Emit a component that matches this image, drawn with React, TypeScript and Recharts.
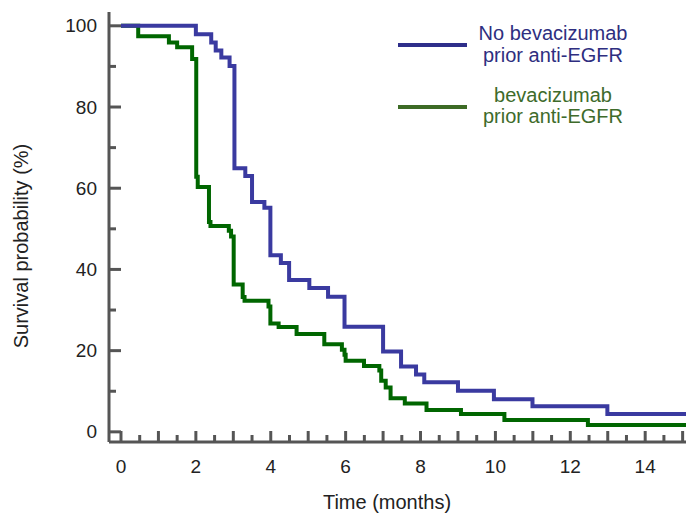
import { LineChart, Line, XAxis, YAxis, Label } from "recharts";

if (typeof document !== "undefined") document.body.style.margin = "0";

const FONT = "'Liberation Sans', Arial, sans-serif";
const AXIS = "#555555";
const BLUE = "#3a3aa0";
const GREEN = "#006600";

// Kaplan-Meier steps (months, % surviving)
const noBevTimes = [0, 2.0, 2.41, 2.53, 2.68, 2.9, 3.03, 3.32, 3.5, 3.83, 3.99, 4.27, 4.49, 5.03, 5.53, 5.97, 7.0, 7.48, 7.88, 8.1, 9.0, 9.96, 10.99, 12.99, 15.09];
const noBevSurv = [100, 97.9, 95.9, 93.9, 92.2, 90.1, 64.9, 63.0, 56.6, 55.2, 43.5, 41.6, 37.4, 35.4, 33.3, 25.9, 19.8, 16.1, 14.1, 12.2, 10.1, 8.0, 6.3, 4.4, 4.4];

const bevTimes = [0, 0.46, 1.28, 1.5, 1.9, 2.01, 2.05, 2.35, 2.39, 2.88, 2.94, 3.01, 3.25, 3.3, 3.94, 3.99, 4.21, 4.69, 5.43, 5.9, 5.97, 6.0, 6.49, 6.9, 6.95, 7.07, 7.2, 7.58, 8.16, 9.08, 10.24, 12.47, 15.09];
const bevSurv = [100, 97.4, 95.9, 94.7, 91.8, 62.8, 60.3, 51.7, 50.7, 49.5, 48.1, 36.3, 33.2, 32.3, 30.9, 26.7, 25.8, 24.1, 21.6, 20.2, 19.0, 17.5, 16.2, 15.1, 12.6, 10.9, 8.3, 7.0, 5.4, 4.4, 2.9, 1.7, 1.7];

const xTicks = [0, 0.5, 1, 1.5, 2, 2.5, 3, 3.5, 4, 4.5, 5, 5.5, 6, 6.5, 7, 7.5, 8, 8.5, 9, 9.5, 10, 10.5, 11, 11.5, 12, 12.5, 13, 13.5, 14, 14.5, 15];
const xLabels = [0, 2, 4, 6, 8, 10, 12, 14];
const yTicks = [0, 10, 20, 30, 40, 50, 60, 70, 80, 90, 100];
const yLabels = [0, 20, 40, 60, 80, 100];

const toRows = (times: number[], surv: number[]) => times.map((t, i) => ({ t, s: surv[i] }));
const noBevData = toRows(noBevTimes, noBevSurv);
const bevData = toRows(bevTimes, bevSurv);

const XTick = (props: any) => {
  const { x, y, payload } = props;
  const v = payload.value;
  const major = Number.isInteger(v);
  return (
    <g>
      <line x1={x} x2={x} y1={y} y2={y - (major ? 11 : 7)} stroke={AXIS} strokeWidth={3} />
      {xLabels.includes(v) && (
        <text x={x} y={y + 31} textAnchor="middle" fontSize={19} fill="#222" fontFamily={FONT}>
          {v}
        </text>
      )}
    </g>
  );
};

const YTick = (props: any) => {
  const { x, y, payload } = props;
  const v = payload.value;
  const major = yLabels.includes(v);
  return (
    <g>
      <line x1={x} x2={x + (major ? 12 : 7)} y1={y} y2={y} stroke={AXIS} strokeWidth={3} />
      {major && (
        <text x={x - 12} y={y} dy="0.35em" textAnchor="end" fontSize={19} fill="#222" fontFamily={FONT}>
          {v}
        </text>
      )}
    </g>
  );
};

const LegendBox = () => (
  <svg width={689} height={140} style={{ position: "absolute", top: 0, left: 0, pointerEvents: "none" }}>
    <line x1={398} x2={467} y1={45} y2={45} stroke="#2e2e8a" strokeWidth={4} />
    <text x={553} y={40} textAnchor="middle" fontSize={20} fill="#2e2e80" fontFamily={FONT}>No bevacizumab</text>
    <text x={553} y={62} textAnchor="middle" fontSize={20} fill="#2e2e80" fontFamily={FONT}>prior anti-EGFR</text>
    <line x1={398} x2={467} y1={107} y2={107} stroke="#3d6b25" strokeWidth={4} />
    <text x={553} y={102} textAnchor="middle" fontSize={20} fill="#3e6b2b" fontFamily={FONT}>bevacizumab</text>
    <text x={553} y={123} textAnchor="middle" fontSize={20} fill="#3e6b2b" fontFamily={FONT}>prior anti-EGFR</text>
  </svg>
);

export default function App() {
  return (
    <div style={{ width: 689, height: 516, background: "#fff", fontFamily: FONT, position: "relative" }}>
      <LineChart width={689} height={516} margin={{ top: 12, right: 3, bottom: 44, left: 0 }}>
        <XAxis
          dataKey="t"
          type="number"
          domain={[-0.32, 15.09]}
          allowDataOverflow
          ticks={xTicks}
          interval={0}
          height={30}
          tickSize={0}
          tickMargin={0}
          tickLine={false}
          tick={<XTick />}
          axisLine={{ stroke: AXIS, strokeWidth: 3 }}
        >
          <Label
            content={() => (
              <text x={387} y={509} textAnchor="middle" fontSize={20} fill="#222" fontFamily={FONT}>
                Time (months)
              </text>
            )}
          />
        </XAxis>
        <YAxis
          type="number"
          domain={[-2.5, 103.4]}
          allowDataOverflow
          ticks={yTicks}
          interval={0}
          width={109}
          tickSize={0}
          tickMargin={0}
          tickLine={false}
          tick={<YTick />}
          axisLine={{ stroke: AXIS, strokeWidth: 3 }}
        >
          <Label
            content={() => (
              <text x={21} y={246} transform="rotate(-90 21 246)" textAnchor="middle" dominantBaseline="central" fontSize={20} fill="#222" fontFamily={FONT}>
                Survival probability (%)
              </text>
            )}
          />
        </YAxis>
        <Line data={bevData} dataKey="s" type="stepAfter" stroke={GREEN} strokeWidth={4} dot={false} isAnimationActive={false} name="bevacizumab prior anti-EGFR" />
        <Line data={noBevData} dataKey="s" type="stepAfter" stroke={BLUE} strokeWidth={4} dot={false} isAnimationActive={false} name="No bevacizumab prior anti-EGFR" />
      </LineChart>
      <LegendBox />
    </div>
  );
}
